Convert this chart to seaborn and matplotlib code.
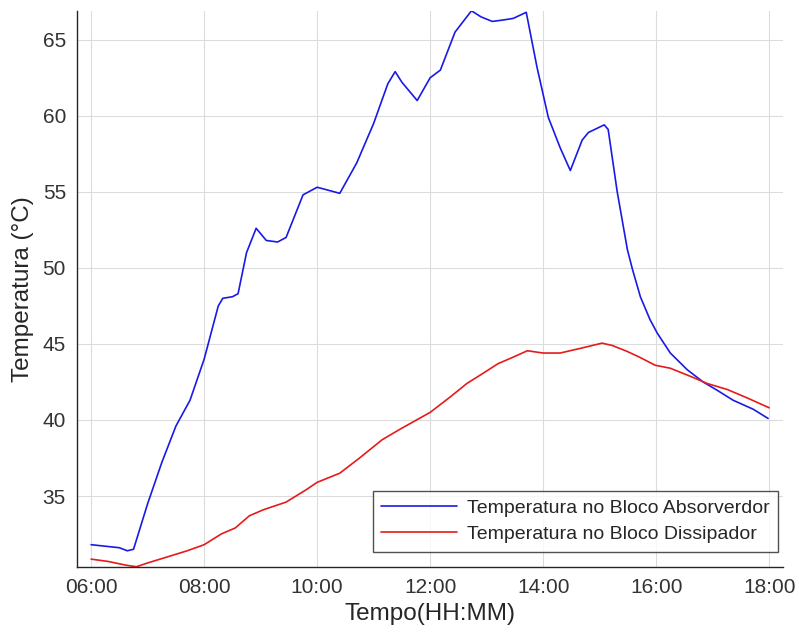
import numpy as np
import pandas as pd
import matplotlib
matplotlib.use("Agg")
import matplotlib.pyplot as plt
import seaborn as sns
from matplotlib.ticker import FuncFormatter

# Blue series: absorber block (hours, °C)
t_abs = [6.00, 6.25, 6.50, 6.64, 6.75, 7.00, 7.25, 7.50, 7.75, 8.00, 8.25, 8.33, 8.50,
         8.60, 8.75, 8.92, 9.10, 9.30, 9.45, 9.75, 10.00, 10.20, 10.40, 10.70, 11.00,
         11.25, 11.38, 11.50, 11.77, 12.00, 12.18, 12.44, 12.73, 12.90, 13.10, 13.30,
         13.47, 13.70, 13.89, 14.09, 14.30, 14.48, 14.69, 14.80, 15.08, 15.15, 15.31,
         15.49, 15.58, 15.72, 15.89, 16.02, 16.25, 16.55, 16.83, 17.08, 17.36, 17.72, 17.98]
v_abs = [31.8, 31.7, 31.6, 31.4, 31.5, 34.5, 37.2, 39.6, 41.3, 44.0, 47.5, 48.0, 48.1,
         48.3, 51.0, 52.6, 51.8, 51.7, 52.0, 54.8, 55.3, 55.1, 54.9, 56.9, 59.5,
         62.1, 62.9, 62.2, 61.0, 62.5, 63.0, 65.5, 66.9, 66.5, 66.2, 66.3,
         66.4, 66.8, 63.2, 59.9, 57.9, 56.4, 58.4, 58.9, 59.4, 59.1, 55.0,
         51.2, 49.9, 48.1, 46.6, 45.7, 44.4, 43.3, 42.5, 41.95, 41.3, 40.7, 40.1]

# Red series: dissipator block (hours, °C)
t_dis = [6.00, 6.30, 6.62, 6.80, 7.00, 7.35, 7.70, 8.00, 8.30, 8.55, 8.80, 9.05, 9.45,
         9.80, 10.00, 10.40, 10.75, 11.15, 11.47, 12.00, 12.35, 12.65, 12.95, 13.20,
         13.45, 13.72, 14.00, 14.30, 14.65, 15.04, 15.22, 15.49, 15.72, 15.98, 16.25,
         16.65, 16.90, 17.26, 17.61, 18.00]
v_dis = [30.85, 30.7, 30.45, 30.35, 30.6, 31.0, 31.4, 31.8, 32.5, 32.9, 33.7, 34.1, 34.6,
         35.4, 35.9, 36.5, 37.5, 38.7, 39.4, 40.5, 41.5, 42.4, 43.1, 43.7,
         44.1, 44.55, 44.4, 44.4, 44.7, 45.05, 44.9, 44.5, 44.1, 43.6, 43.4,
         42.8, 42.4, 42.0, 41.45, 40.8]

lbl_abs = "Temperatura no Bloco Absorverdor"
lbl_dis = "Temperatura no Bloco Dissipador"

df = pd.concat([
    pd.DataFrame({"t": t_abs, "v": v_abs, "serie": lbl_abs}),
    pd.DataFrame({"t": t_dis, "v": v_dis, "serie": lbl_dis}),
])

sns.set_theme(style="whitegrid")
plt.rcParams["font.family"] = ["Liberation Sans", "DejaVu Sans"]

fig = plt.figure(figsize=(7.99, 6.35), dpi=100)
ax = fig.add_axes([0.0964, 0.107, 0.884, 0.876])

sns.lineplot(data=df, x="t", y="v", hue="serie",
             palette={lbl_abs: "#1a1ae6", lbl_dis: "#e61a1a"},
             linewidth=1.2, ax=ax, sort=False, estimator=None)

ax.set_xlim(5.75, 18.25)
ax.set_ylim(30.33, 66.9)
ax.set_xticks([6, 8, 10, 12, 14, 16, 18])
ax.set_yticks([35, 40, 45, 50, 55, 60, 65])
ax.xaxis.set_major_formatter(FuncFormatter(lambda x, p: f"{int(round(x)):02d}:00"))

ax.grid(True, color="#dcdcdc", linewidth=0.8)
ax.set_facecolor("white")
for s in ["top", "right"]:
    ax.spines[s].set_visible(False)
for s in ["left", "bottom"]:
    ax.spines[s].set_color("#262626")
    ax.spines[s].set_linewidth(1.0)

ax.tick_params(axis="both", direction="in", length=5, width=0.8, color="#262626",
               labelsize=15, labelcolor="#333333", pad=8)

ax.set_xlabel("Tempo(HH:MM)", fontsize=17.5, color="#262626", labelpad=4)
ax.set_ylabel("Temperatura (°C)", fontsize=17.5, color="#262626", labelpad=6)

leg = ax.legend(loc="lower right", fontsize=14, frameon=True, fancybox=False,
                edgecolor="#262626", borderpad=0.45, handlelength=3.9,
                handletextpad=0.5, labelspacing=0.45, borderaxespad=0,
                bbox_to_anchor=(0.993, 0.027))
leg.get_frame().set_linewidth(1.0)
for t in leg.get_texts():
    t.set_color("#262626")

fig.savefig("out.png", dpi=100)
